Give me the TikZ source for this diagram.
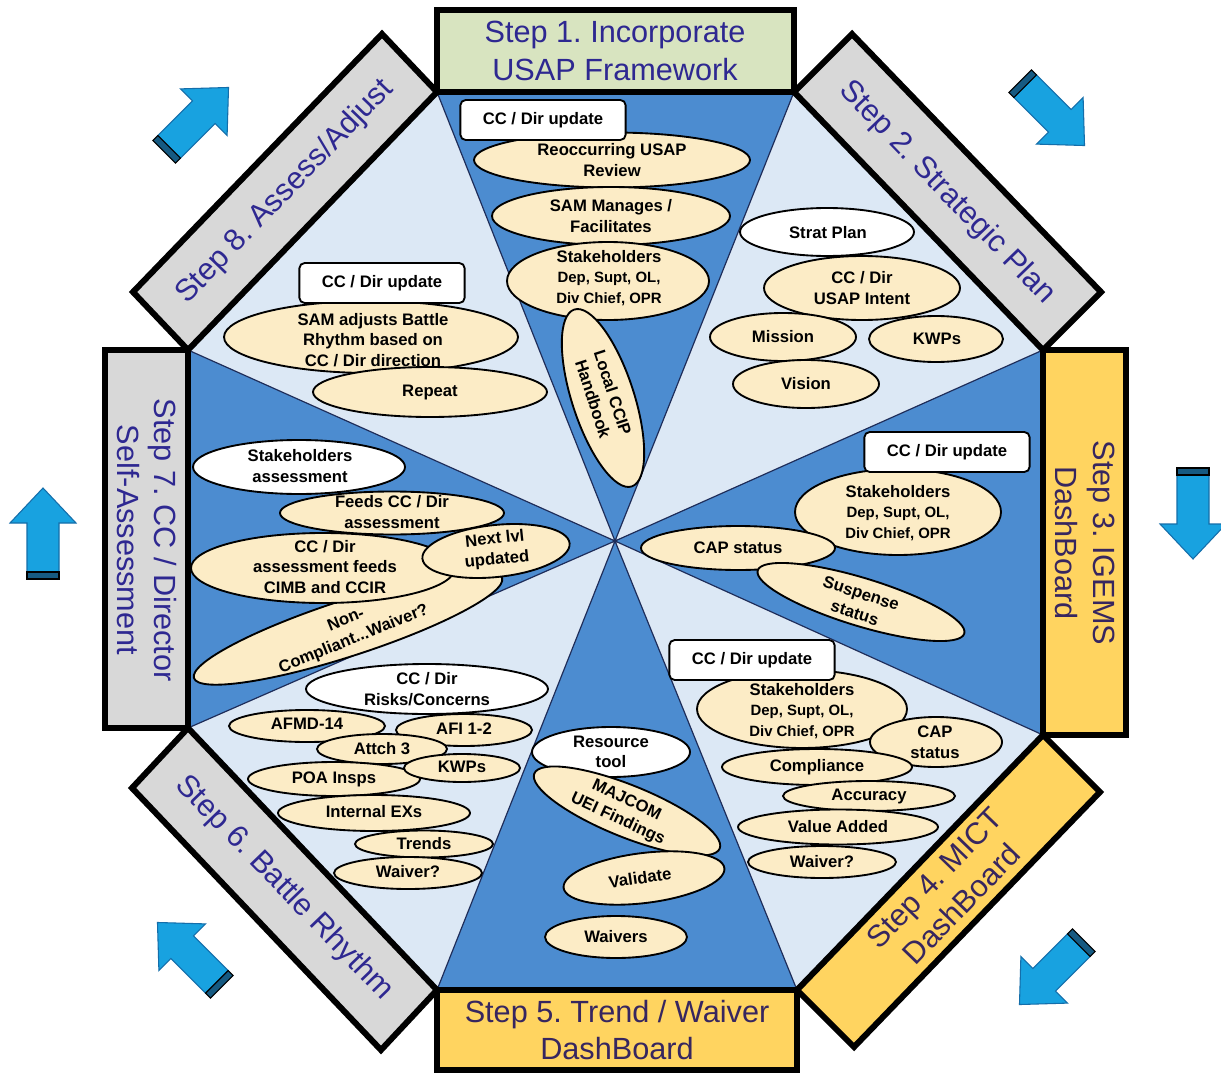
\documentclass[tikz,border=0pt]{standalone}
\usepackage{fontspec}
\setmainfont{Liberation Sans}

\definecolor{usapgreen}{RGB}{216,228,192}
\definecolor{stepgray}{RGB}{216,216,216}
\definecolor{dashgold}{RGB}{255,212,96}
\definecolor{stepink}{RGB}{46,40,145}
\definecolor{stepinkdark}{RGB}{55,38,95}
\definecolor{wedgedark}{RGB}{76,140,208}
\definecolor{wedgelight}{RGB}{220,232,245}
\definecolor{bubblefill}{RGB}{252,236,198}
\definecolor{spokeink}{RGB}{30,45,90}
\definecolor{arrowblue}{RGB}{24,162,224}
\definecolor{arrowedge}{RGB}{20,110,170}
\definecolor{arrowside}{RGB}{22,90,130}

\newcommand{\stepfont}{\fontsize{23}{28}\selectfont}
\newcommand{\bubfont}{\fontsize{12.5}{15.5}\selectfont\bfseries}
\newcommand{\smallbub}{\fontsize{11.2}{15.2}\selectfont}

\tikzset{every picture/.style={line width=0.75pt},
  stepbox/.style={draw=black, line width=4.5pt, line join=miter},
  steptxt/.style={text=stepink, font=\stepfont, align=center, inner sep=0pt},
  bubble/.style={draw=black, fill=bubblefill, line width=1.4pt},
  whitebubble/.style={draw=black, fill=white, line width=1.4pt},
  bubtxt/.style={font=\bubfont, align=center, inner sep=0pt},
  notebox/.style={draw=black, fill=white, rounded corners=4pt, line width=1.4pt, font=\bubfont, minimum width=124pt, minimum height=30pt, inner sep=0pt},
  spoke/.style={draw=spokeink, line width=0.9pt},
  blockarrow/.pic={
    \draw[draw=arrowedge, fill=arrowblue, line width=0.8pt] (0,46) -- (33,11) -- (16,11) -- (16,-38) -- (-16,-38) -- (-16,11) -- (-33,11) -- cycle;
    \draw[draw=black, fill=arrowside, line width=0.8pt] (-16,-38) -- (16,-38) -- (16,-45) -- (-16,-45) -- cycle;
  }
}

\begin{document}
\frenchspacing
\begin{tikzpicture}[x=0.75pt,y=0.75pt,yscale=-1,xscale=1]

\fill[white] (0,0) rectangle (1221,1074);
\path[use as bounding box] (0,0) rectangle (1221,1074);

% Octagon corners
\coordinate (O) at (615,541);
\coordinate (A) at (437,92);
\coordinate (B) at (794,92);
\coordinate (C) at (1043,350);
\coordinate (D) at (1043,735);
\coordinate (E) at (797,990);
\coordinate (F) at (437,990);
\coordinate (G) at (188,728);
\coordinate (H) at (188,350);

% Shape: Wedges
\fill[wedgedark] (O) -- (A) -- (B) -- cycle;
\fill[wedgelight] (O) -- (B) -- (C) -- cycle;
\fill[wedgedark] (O) -- (C) -- (D) -- cycle;
\fill[wedgelight] (O) -- (D) -- (E) -- cycle;
\fill[wedgedark] (O) -- (E) -- (F) -- cycle;
\fill[wedgelight] (O) -- (F) -- (G) -- cycle;
\fill[wedgedark] (O) -- (G) -- (H) -- cycle;
\fill[wedgelight] (O) -- (H) -- (A) -- cycle;
\draw[spoke] (O) -- (A) (O) -- (B) (O) -- (C) (O) -- (D) (O) -- (E) (O) -- (F) (O) -- (G) (O) -- (H);

% Shape: Step boxes
\draw[stepbox, fill=usapgreen] (437,10) -- (794,10) -- (794,92) -- (437,92) -- cycle;
\draw[stepbox, fill=stepgray] (794,92) -- (852,34) -- (1101,292) -- (1043,350) -- cycle;
\draw[stepbox, fill=dashgold] (1043,350) -- (1126,350) -- (1126,735) -- (1043,735) -- cycle;
\draw[stepbox, fill=dashgold] (1043,735) -- (1100,792) -- (854,1047) -- (797,990) -- cycle;
\draw[stepbox, fill=dashgold] (437,990) -- (797,990) -- (797,1070) -- (437,1070) -- cycle;
\draw[stepbox, fill=stepgray] (437,990) -- (381,1050) -- (132,788) -- (188,728) -- cycle;
\draw[stepbox, fill=stepgray] (105,350) -- (188,350) -- (188,728) -- (105,728) -- cycle;
\draw[stepbox, fill=stepgray] (188,350) -- (133,292) -- (382,34) -- (437,92) -- cycle;

% Text Node
\node[steptxt] (s1) at (615,51) {Step 1. Incorporate\\USAP Framework};
\node[steptxt, rotate=-46] (s2) at (947,193) {Step 2. Strategic Plan};
\node[steptxt, text=stepinkdark, rotate=-90] (s3) at (1085,543) {Step 3. IGEMS\\DashBoard};
\node[steptxt, text=stepinkdark, rotate=46] (s4) at (948,891) {Step 4. MICT\\DashBoard};
\node[steptxt, text=stepinkdark] (s5) at (617,1030) {Step 5. Trend / Waiver\\DashBoard};
\node[steptxt, rotate=-46] (s6) at (284,888) {Step 6. Battle Rhythm};
\node[steptxt, rotate=-90] (s7) at (147,540) {Step 7. CC / Director\\Self-Assessment};
\node[steptxt, rotate=46] (s8) at (285,192) {Step 8. Assess/Adjust};

% Shape: Step 1 bubbles
\draw[bubble] (612,160) ellipse (138 and 27.5);
\draw[bubble] (611,216) ellipse (119 and 29);
\draw[bubble] (608,281) ellipse (101 and 39);
\draw[bubble, rotate around={72:(603,398)}] (603,398) ellipse (93 and 31);
% Text Node
\node[notebox] (upd1) at (543,120) {CC / Dir update};
\node[bubtxt] (usaprev) at (612,160) {Reoccurring USAP\\Review};
\node[bubtxt] (sammgr) at (611,216) {SAM Manages /\\Facilitates};
\node[bubtxt] (stake1) at (609,278) {Stakeholders\\{\smallbub Dep, Supt, OL,}\\{\smallbub Div Chief, OPR}};
\node[bubtxt, rotate=-72] (ccip) at (603,396) {Local CCIP\\Handbook};

% Shape: Step 2 bubbles
\draw[whitebubble] (827,232) ellipse (87 and 24);
\draw[bubble] (862,288) ellipse (98 and 32);
\draw[bubble] (783,337) ellipse (73 and 24);
\draw[bubble] (936,339) ellipse (67 and 23);
\draw[bubble] (806,384) ellipse (73 and 24);
% Text Node
\node[bubtxt] (stratplan) at (828,233) {Strat Plan};
\node[bubtxt] (intent) at (862,288) {CC / Dir\\USAP Intent};
\node[bubtxt] (mission) at (783,337) {Mission};
\node[bubtxt] (kwps2) at (937,339) {KWPs};
\node[bubtxt] (vision) at (806,384) {Vision};

% Shape: Step 3 bubbles
\draw[bubble] (898,512) ellipse (103 and 43);
\draw[bubble] (738,548) ellipse (97 and 22);
\draw[bubble, rotate around={17:(861,602)}] (861,602) ellipse (108 and 24);
% Text Node
\node[notebox] (upd3) at (947,452) {CC / Dir update};
\node[bubtxt] (stake3) at (898,513) {Stakeholders\\{\smallbub Dep, Supt, OL,}\\{\smallbub Div Chief, OPR}};
\node[bubtxt] (capstat3) at (738,548) {CAP status};
\node[bubtxt, rotate=-18] (suspense) at (858,603) {Suspense\\status};

% Shape: Step 4 bubbles
\draw[bubble] (802,709) ellipse (105 and 39);
\draw[bubble] (936,742) ellipse (66 and 25);
\draw[bubble] (817,767) ellipse (95 and 18);
\draw[bubble] (869,796) ellipse (86 and 15);
\draw[bubble] (838,827) ellipse (100 and 17.5);
\draw[bubble] (822,862) ellipse (74 and 16);
% Text Node
\node[notebox] (upd4) at (752,660) {CC / Dir update};
\node[bubtxt] (stake4) at (802,711) {Stakeholders\\{\smallbub Dep, Supt, OL,}\\{\smallbub Div Chief, OPR}};
\node[bubtxt] (capstat4) at (935,742) {CAP\\status};
\node[bubtxt] (compliance) at (817,767) {Compliance};
\node[bubtxt] (accuracy) at (869,796) {Accuracy};
\node[bubtxt] (valueadd) at (838,827) {Value Added};
\node[bubtxt] (waiver4) at (822,862) {Waiver?};

% Shape: Step 5 bubbles
\draw[whitebubble] (611,752) ellipse (79 and 25);
\draw[bubble, rotate around={22:(627,811)}] (627,811) ellipse (100 and 26);
\draw[bubble, rotate around={-7:(644,878)}] (644,878) ellipse (81 and 25);
\draw[bubble] (616,937) ellipse (71 and 21);
% Text Node
\node[bubtxt] (resource) at (611,752) {Resource\\tool};
\node[bubtxt, rotate=-25] (majcom) at (622,810) {MAJCOM\\UEI Findings};
\node[bubtxt, rotate=8] (validate) at (640,878) {Validate};
\node[bubtxt] (waivers) at (616,937) {Waivers};

% Shape: Step 6 bubbles
\draw[whitebubble] (427,689) ellipse (121 and 25);
\draw[bubble] (307,726) ellipse (78 and 16);
\draw[bubble] (464,730) ellipse (68 and 16);
\draw[bubble] (382,749) ellipse (65 and 15);
\draw[bubble] (334,779) ellipse (86 and 17);
\draw[bubble] (462,768) ellipse (58 and 14);
\draw[bubble] (374,813) ellipse (96 and 18);
\draw[bubble] (424,844) ellipse (69 and 13.5);
\draw[bubble] (408,873) ellipse (74 and 16);
% Text Node
\node[bubtxt] (risks) at (427,689) {CC / Dir\\Risks/Concerns};
\node[bubtxt] (afmd) at (307,724) {AFMD-14};
\node[bubtxt] (afi) at (464,729) {AFI 1-2};
\node[bubtxt] (attch) at (382,749) {Attch 3};
\node[bubtxt] (poa) at (334,779) {POA Insps};
\node[bubtxt] (kwps6) at (462,767) {KWPs};
\node[bubtxt] (intex) at (374,812) {Internal EXs};
\node[bubtxt] (trends) at (424,844) {Trends};
\node[bubtxt] (waiver6) at (408,872) {Waiver?};

% Shape: Step 7 bubbles
\draw[whitebubble] (299,467) ellipse (106 and 27);
\draw[bubble] (392,513) ellipse (112 and 21.5);
\draw[bubble, rotate around={-18:(348,628)}] (348,628) ellipse (162 and 28);
\draw[bubble] (323,568) ellipse (132 and 35);
\draw[bubble, rotate around={-6:(496,551)}] (496,551) ellipse (74 and 26);
% Text Node
\node[bubtxt] (stakeassess) at (300,466) {Stakeholders\\assessment};
\node[bubtxt] (feeds) at (392,512) {Feeds CC / Dir\\assessment};
\node[bubtxt, rotate=22] (noncomp) at (350,630) {Non-\\Compliant...Waiver?};
\node[bubtxt] (ccassess) at (325,567) {CC / Dir\\assessment feeds\\CIMB and CCIR};
\node[bubtxt, rotate=6] (nextlvl) at (496,550) {Next lvl\\updated};

% Shape: Step 8 bubbles
\draw[bubble] (371,337) ellipse (147 and 36);
\draw[bubble] (430,392) ellipse (117 and 25);
% Text Node
\node[notebox] (upd8) at (382,283) {CC / Dir update};
\node[bubtxt] (samadj) at (373,340) {SAM adjusts Battle\\Rhythm based on\\CC / Dir direction};
\node[bubtxt] (repeat) at (430,392) {Repeat};

% Shape: Block arrows
\pic[rotate=0] at (43,534) {blockarrow};
\pic[rotate=-45] at (196,120) {blockarrow};
\pic[rotate=-135] at (1052,113) {blockarrow};
\pic[rotate=180] at (1193,513) {blockarrow};
\pic[rotate=135] at (1052,972) {blockarrow};
\pic[rotate=45] at (190,955) {blockarrow};

\end{tikzpicture}
\end{document}
